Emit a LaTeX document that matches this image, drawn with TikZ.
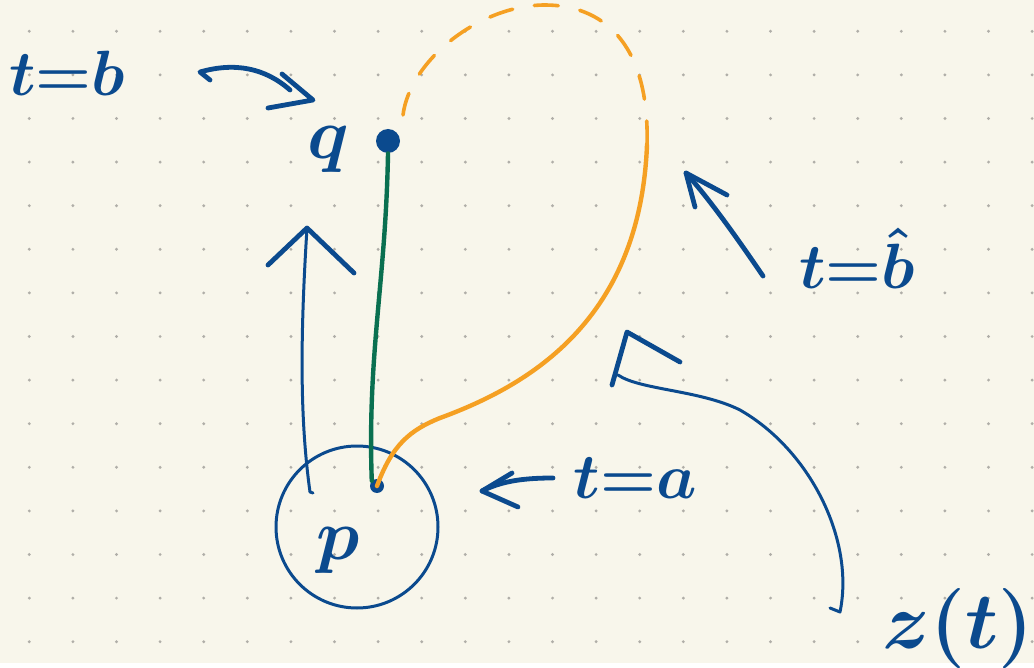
\documentclass[tikz,border=0pt]{standalone}
\usepackage{fix-cm}
\usetikzlibrary{positioning}
\definecolor{paper}{HTML}{F8F6EB}
\definecolor{ink}{HTML}{0B4A8E}
\definecolor{orng}{HTML}{F5A023}
\definecolor{grn}{HTML}{0A7050}
\definecolor{dotgray}{HTML}{B0AEA8}

\begin{document}
\begin{tikzpicture}[x=.5pt, y=-.5pt, line cap=round, line join=round,
	pen/.style={draw=ink, line width=2.4pt},
	thinpen/.style={draw=ink, line width=1.5pt},
	lbl/.style={text=ink, inner sep=0pt, font=\fontsize{32}{32}\selectfont\boldmath},
	dot/.style={circle, fill=ink, inner sep=0pt}]
	\fill[paper] (0,0) rectangle (1034,663);
	\foreach \i in {0,...,23}
		\foreach \j in {0,...,14}
			\fill[dotgray] (29.3+43.6*\i, 31.3+43.6*\j) circle[radius=.8pt];

	% points and the disc round p
	\node[dot, minimum size=12pt] (q) at (388,141) {};
	\node[dot, minimum size=7pt] (p) at (377,486) {};
	\node[circle, draw=ink, line width=1.5pt, minimum size=81pt] (disc) at (357,527) {};

	% labels
	\node[lbl] (tb) at (67,73) {$t{=}b$};
	\node[lbl, font=\fontsize{36}{36}\selectfont\boldmath] (qlabel) at (328,150) {$q$};
	\node[lbl, font=\fontsize{36}{36}\selectfont\boldmath] (plabel) at (338,550) {$p$};
	\node[lbl] (ta) at (635,478) {$t{=}a$};
	\node[lbl] (tbhat) at (857,258) {$t{=}\hat{b}$};
	\node[lbl, font=\fontsize{40}{40}\selectfont\boldmath] (zt) at (958,628) {$z(t)$};

	% free ends of the arrows
	\coordinate (bstart) at (210,80);
	\coordinate (btip) at (313,100);
	\coordinate (upfoot) at (310,492);
	\coordinate (uptip) at (307,228);
	\coordinate (astart) at (553,478);
	\coordinate (atip) at (482,491);
	\coordinate (hatstart) at (763,276);
	\coordinate (hattip) at (686,173);
	\coordinate (zstart) at (840,612);
	\coordinate (zend) at (618,375);
	\coordinate (zhead) at (627,332);

	% the two paths from p to q
	\draw[grn, line width=2.2pt] (q.south) to[out=-91, in=92] (p.north west);
	\coordinate (bend) at (647,145);
	\coordinate (near) at (403,115);
	\draw[orng, line width=2.2pt] (p.center) .. controls (392,445) and (410,430) .. (440,418)
		.. controls (530,385) and (640,320) .. (bend);
	\draw[orng, line width=1.8pt, dash pattern=on 12pt off 11pt] (bend) .. controls (650,40) and (600,5) .. (545,5)
		.. controls (480,5) and (410,60) .. (near);

	% arrows
	\draw[pen] (bstart) -- (200,72) .. controls (235,62) and (265,68) .. (290,90);
	\draw[pen] (282,74) -- (btip) -- (268,108);

	\draw[thinpen] (upfoot) -- (313,493);
	\draw[thinpen] (upfoot) .. controls (300,420) and (300,340) .. (uptip);
	\draw[pen] (268,265) -- (uptip) -- (354,273);

	\draw[pen] (astart) .. controls (520,478) and (500,482) .. (atip);
	\draw[pen] (512,473) -- (atip) -- (518,507);

	\draw[pen] (hatstart) .. controls (735,235) and (710,200) .. (hattip);
	\draw[pen] (727,195) -- (hattip) -- (695,207);

	\draw[thinpen] (830,608) -- (zstart) .. controls (855,540) and (810,450) .. (740,410)
		.. controls (700,390) and (640,390) .. (zend);
	\draw[pen] (612,385) -- (zhead) -- (680,362);
\end{tikzpicture}
\end{document}
